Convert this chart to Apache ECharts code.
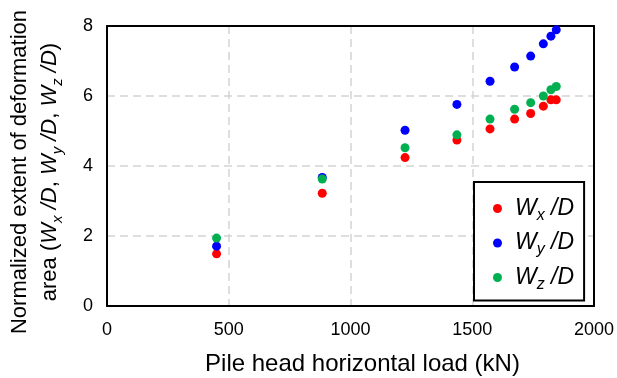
<!DOCTYPE html>
<html>
<head>
<meta charset="utf-8">
<script src="https://cdn.jsdelivr.net/npm/echarts@6/dist/echarts.min.js"></script>
<style>
html, body { margin: 0; padding: 0; background: #fff; }
#main { width: 617px; height: 378px; }
</style>
</head>
<body>
<div id="main"></div>
<script>
// data
var loads = [450, 884, 1224, 1437, 1573, 1674, 1740, 1792, 1823, 1845];
var wx = [1.49, 3.22, 4.24, 4.74, 5.06, 5.34, 5.50, 5.71, 5.89, 5.89];
var wy = [1.71, 3.67, 5.02, 5.76, 6.42, 6.83, 7.14, 7.49, 7.71, 7.89];
var wz = [1.94, 3.63, 4.52, 4.89, 5.34, 5.62, 5.81, 6.00, 6.18, 6.27];

var seriesNames = ['Wx/D', 'Wy/D', 'Wz/D'];
var seriesColors = ['#ff0000', '#0000ff', '#00b050'];
var seriesValues = [wx, wy, wz];

var font = "'Liberation Sans', Arial, sans-serif";

// W with subscript, italic
function wLabel(sub, pre) {
    return '{' + pre + 'i|W}{' + pre + 's|' + sub + '}{' + pre + 'i| /D}';
}

function pairs(vals) {
    return loads.map(function (x, i) {
        return [x, vals[i]];
    });
}

var gridLine = { show: true, showMinLine: false, showMaxLine: false, lineStyle: { color: '#d4d4d4', width: 1.5, type: [8, 5] } };
var frameLine = { show: true, onZero: false, lineStyle: { color: '#000', width: 2 } };

// plain axes on top and right only to close the frame
function frameAxis(pos, min, max, interval) {
    return {
        type: 'value', position: pos, min: min, max: max, interval: interval,
        axisLine: frameLine, axisTick: { show: false }, axisLabel: { show: false }, splitLine: { show: false }
    };
}

var myChart = echarts.init(document.getElementById('main'), null, { renderer: 'canvas' });

var option = {
    animation: false,
    backgroundColor: '#fff',
    grid: {
        left: 107,
        right: 23,
        top: 26,
        bottom: 72,
        containLabel: false,
        outerBoundsMode: 'none'
    },
    legend: {
        orient: 'vertical',
        left: 474,
        top: 182,
        padding: [15, 10, 8, 19],
        borderColor: '#000',
        borderWidth: 2,
        backgroundColor: '#fff',
        icon: 'circle',
        itemWidth: 9,
        itemHeight: 9,
        itemGap: 8,
        data: seriesNames,
        formatter: function (name) {
            return wLabel(name.charAt(1), 'l');
        },
        textStyle: {
            fontFamily: font,
            fontSize: 23,
            color: '#000',
            padding: [0, 0, 0, 8],
            rich: {
                li: { fontFamily: font, fontSize: 23, fontStyle: 'italic', color: '#000', lineHeight: 30 },
                ls: { fontFamily: font, fontSize: 16, fontStyle: 'italic', color: '#000', lineHeight: 18, verticalAlign: 'bottom' }
            }
        }
    },
    xAxis: [{
        type: 'value',
        min: 0,
        max: 2000,
        interval: 500,
        name: 'Pile head horizontal load (kN)',
        nameLocation: 'middle',
        nameGap: 46,
        nameTextStyle: { fontFamily: font, fontSize: 24, color: '#000', padding: [0, 0, 0, 24] },
        axisLine: frameLine,
        axisTick: { show: false },
        axisLabel: {
            fontFamily: font, fontSize: 18, color: '#000', margin: 15,
            formatter: function (v) { return String(v); }
        },
        splitLine: gridLine
    }, frameAxis('top', 0, 2000, 500)],
    yAxis: [{
        type: 'value',
        min: 0,
        max: 8,
        interval: 2,
        name: 'Normalized extent of deformation\narea (' + wLabel('x', 'y') + ', ' + wLabel('y', 'y') + ', ' + wLabel('z', 'y') + ')',
        nameLocation: 'middle',
        nameRotate: 90,
        nameGap: 42,
        nameTextStyle: {
            fontFamily: font,
            fontSize: 22,
            color: '#000',
            lineHeight: 30,
            padding: [0, 12, 0, 0],
            rich: {
                yi: { fontFamily: font, fontSize: 22, fontStyle: 'italic', color: '#000', lineHeight: 30 },
                ys: { fontFamily: font, fontSize: 15, fontStyle: 'italic', color: '#000', lineHeight: 17, verticalAlign: 'bottom' }
            }
        },
        axisLine: frameLine,
        axisTick: { show: false },
        axisLabel: { fontFamily: font, fontSize: 18, color: '#000', margin: 14 },
        splitLine: gridLine
    }, frameAxis('right', 0, 8, 2)],
    series: seriesNames.map(function (name, k) {
        return {
            name: name,
            type: 'scatter',
            symbol: 'circle',
            symbolSize: 9,
            itemStyle: { color: seriesColors[k], opacity: 1 },
            data: pairs(seriesValues[k])
        };
    })
};

myChart.setOption(option);
</script>
</body>
</html>
